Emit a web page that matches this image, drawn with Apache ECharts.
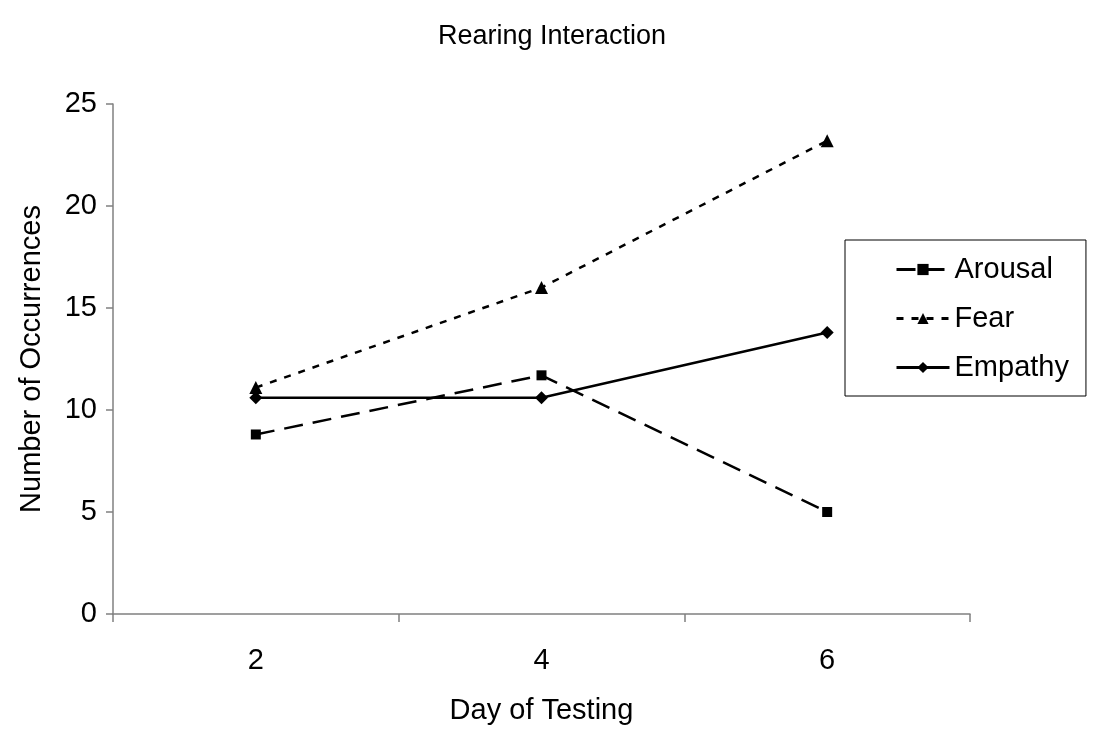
<!DOCTYPE html>
<html>
<head>
    <meta charset="utf-8">
    <title>Rearing Interaction</title>
    <script type="text/javascript" src="https://cdn.jsdelivr.net/npm/echarts@6/dist/echarts.min.js"></script>
    <style>
        html, body { margin:0; padding:0; background:#fff; }
        #chart { width:1117px; height:730px; }
    </style>
</head>
<body>
<div id="chart"></div>
<script type="text/javascript">
// data
var days = ['2', '4', '6'];
var arousal = [8.8, 11.7, 5.0];
var fear = [11.1, 16.0, 23.2];
var empathy = [10.6, 10.6, 13.8];

var font = 'Liberation Sans, Arial, sans-serif';
var myChart = echarts.init(document.getElementById('chart'));

function lineSeries(name, data, symbol, size, dash){
    return {
        name: name,
        type: 'line',
        data: data,
        symbol: symbol,
        symbolSize: size,
        showAllSymbol: true,
        lineStyle: {color:'#000', width:2.5, type:dash},
        itemStyle: {color:'#000', borderWidth:0},
        emphasis: {disabled:true},
        animation: false
    };
}

myChart.setOption({
    backgroundColor: '#fff',
    title: {
        text: 'Rearing Interaction',
        left: 433,
        top: 18,
        textStyle: {fontFamily:font, fontSize:27, fontWeight:'normal', color:'#000'}
    },
    grid: {left:113, right:147, top:104, bottom:116},
    legend: {
        orient: 'vertical',
        left: 845,
        top: 240,
        padding: [15, 17, 14, 50],
        itemGap: 20,
        itemWidth: 53,
        itemHeight: 14,
        borderColor: '#000',
        borderWidth: 1,
        lineStyle: {width: 3},
        textStyle: {fontFamily:font, fontSize:29, lineHeight:29, color:'#000'},
        data: ['Arousal', 'Fear', 'Empathy']
    },
    xAxis: {
        type: 'category',
        data: days,
        boundaryGap: true,
        name: 'Day of Testing',
        nameLocation: 'middle',
        nameGap: 82,
        nameTextStyle: {fontFamily:font, fontSize:29, color:'#000'},
        axisLine: {lineStyle:{color:'#808080', width:1.5}},
        axisTick: {show:true, alignWithLabel:false, interval:0, length:8, lineStyle:{color:'#808080', width:1.5}},
        axisLabel: {fontFamily:font, fontSize:29, color:'#000', margin:32},
        splitLine: {show:false}
    },
    yAxis: {
        type: 'value',
        min: 0,
        max: 25,
        interval: 5,
        name: 'Number of Occurrences',
        nameLocation: 'middle',
        nameGap: 67,
        nameTextStyle: {fontFamily:font, fontSize:29, color:'#000'},
        axisLine: {show:true, lineStyle:{color:'#808080', width:1.5}},
        axisTick: {show:true, length:7, lineStyle:{color:'#808080', width:1.5}},
        axisLabel: {fontFamily:font, fontSize:29, color:'#000', margin:16},
        splitLine: {show:false}
    },
    series: [
        lineSeries('Arousal', arousal, 'rect', 10, [19, 10]),
        lineSeries('Fear', fear, 'triangle', 13, [7, 8]),
        lineSeries('Empathy', empathy, 'diamond', 13, 'solid')
    ]
});
</script>
</body>
</html>
